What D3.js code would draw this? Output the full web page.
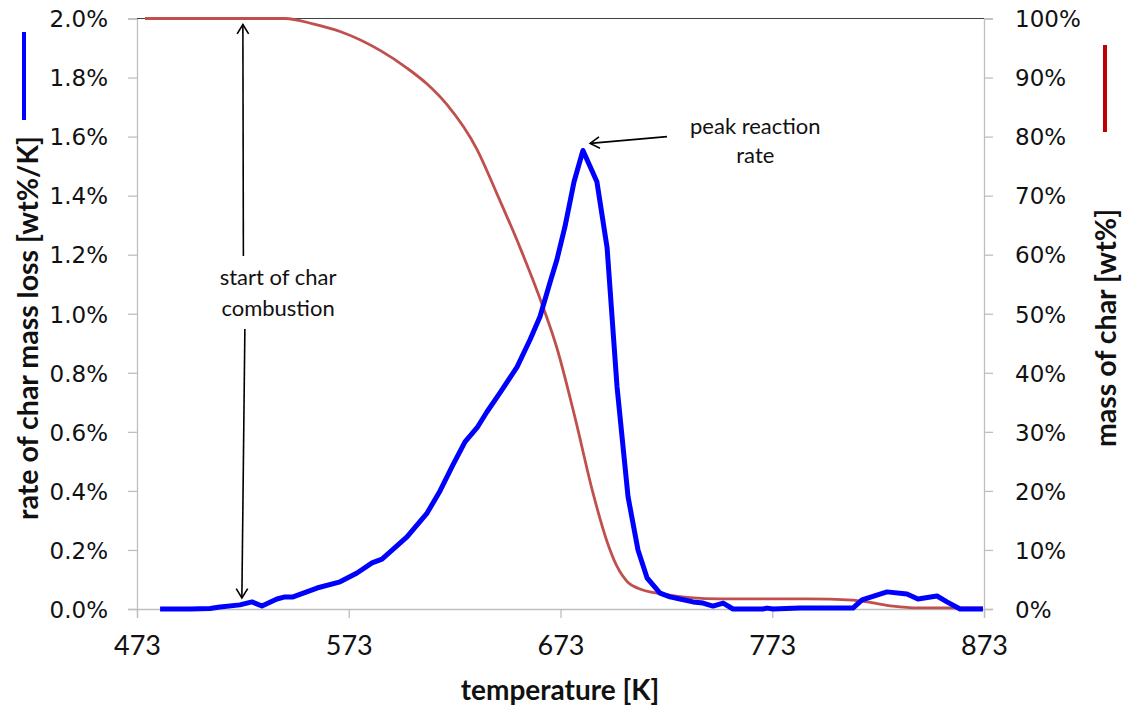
<!DOCTYPE html>
<html>
<head>
<meta charset="utf-8">
<script src="https://cdn.jsdelivr.net/npm/d3@7"></script>
<style>
  html, body { margin: 0; padding: 0; background: #fff; }
  svg { display: block; }
</style>
</head>
<body>
<svg id="chart" width="1130" height="710"></svg>
<script>
// ---- data ----
const xTicks = [473, 573, 673, 773, 873];
const rateTicks = [0, 0.2, 0.4, 0.6, 0.8, 1.0, 1.2, 1.4, 1.6, 1.8, 2.0];
const massTicks = [0, 10, 20, 30, 40, 50, 60, 70, 80, 90, 100];

// rate of char mass loss [wt%/K]
const rateT = [483.9, 498.0, 507.5, 512.2, 521.6, 527.3, 532.0, 539.1, 542.9, 546.7, 558.0, 568.9, 576.9, 584.0, 588.7, 600.5, 610.0, 616.1, 622.2, 627.9, 633.6, 638.3, 644.4, 652.5, 658.6, 663.3, 668.0, 671.3, 675.1, 679.4, 683.6, 690.2, 695.0, 699.7, 704.9, 709.6, 713.9, 720.0, 724.7, 729.4, 735.6, 740.3, 745.0, 749.8, 754.5, 768.6, 770.5, 773.4, 786.1, 798.9, 811.1, 815.4, 827.2, 836.6, 841.8, 850.8, 855.5, 861.7, 872.5];
const rateV = [0, 0, 0.002, 0.007, 0.014, 0.024, 0.010, 0.034, 0.041, 0.041, 0.071, 0.092, 0.122, 0.156, 0.169, 0.244, 0.325, 0.400, 0.488, 0.566, 0.614, 0.668, 0.732, 0.820, 0.912, 0.990, 1.105, 1.183, 1.295, 1.447, 1.553, 1.447, 1.224, 0.753, 0.380, 0.200, 0.105, 0.054, 0.041, 0.034, 0.024, 0.020, 0.010, 0.020, 0, 0, 0.003, 0, 0.003, 0.003, 0.003, 0.031, 0.058, 0.051, 0.034, 0.044, 0.024, 0, 0];

// mass of char [wt%]
const massT = [476.8, 540.5, 542.9, 556.1, 568.9, 587.8, 600.5, 610.0, 619.4, 633.6, 643.0, 653.9, 664.7, 671.3, 679.8, 688.3, 695.0, 699.7, 704.9, 709.6, 720.0, 748.3, 789.4, 811.1, 817.7, 830.0, 841.4, 872.5];
const massV = [100, 100, 100, 99.1, 97.8, 94.6, 91.6, 88.9, 85.4, 77.8, 70.3, 61.2, 51.2, 44.2, 32.5, 19.7, 11.4, 7.2, 4.5, 3.5, 2.6, 1.7, 1.7, 1.5, 1.2, 0.5, 0.2, 0.2];

// ---- layout ----
const svg = d3.select("#chart");
const L = 137, R = 984, T = 18.5, B = 609;

const x = d3.scaleLinear().domain([473, 873]).range([L, R]);
const yL = d3.scaleLinear().domain([0, 2.0]).range([B, T]);
const yR = d3.scaleLinear().domain([0, 100]).range([B, T]);

const axisColor = "#bfbfbf";
const tickFont = "'DejaVu Sans', Verdana, sans-serif";
const labFont = "Lato, 'Open Sans', sans-serif";

// left axis
const gL = svg.append("g").attr("transform", `translate(${L},0)`)
  .call(d3.axisLeft(yL).tickValues(rateTicks).tickSize(9).tickPadding(20)
        .tickFormat(d => d.toFixed(1) + "%"));
// right axis
const gR = svg.append("g").attr("transform", `translate(${R},0)`)
  .call(d3.axisRight(yR).tickValues(massTicks).tickSize(9).tickPadding(22)
        .tickFormat(d => d + "%"));
// bottom axis
const gB = svg.append("g").attr("transform", `translate(0,${B})`)
  .call(d3.axisBottom(x).tickValues(xTicks).tickSize(9).tickPadding(18)
        .tickFormat(d3.format("d")));

[gL, gR, gB].forEach(g => {
  g.select(".domain").attr("stroke", axisColor).attr("stroke-width", 1.3);
  g.selectAll(".tick line").attr("stroke", axisColor).attr("stroke-width", 1.3);
  g.selectAll(".tick text").attr("fill", "#111");
});
gL.selectAll(".tick text").style("font-family", tickFont).style("font-size", "23px")
  .attr("dy", "0.36em");
gR.selectAll(".tick text").style("font-family", tickFont).style("font-size", "23px")
  .attr("dy", "0.36em");
gB.selectAll(".tick text").style("font-family", labFont).style("font-size", "27px");

// top border
svg.append("line").attr("x1", L).attr("x2", R).attr("y1", T).attr("y2", T)
  .attr("stroke", "#404040").attr("stroke-width", 1);

// ---- series ----
const massData = massT.map((t, i) => [t, massV[i]]);
const rateData = rateT.map((t, i) => [t, rateV[i]]);

svg.append("path").datum(massData)
  .attr("fill", "none").attr("stroke", "#c0504d").attr("stroke-width", 2.8)
  .attr("d", d3.line().x(d => x(d[0])).y(d => yR(d[1])).curve(d3.curveMonotoneX));

svg.append("path").datum(rateData)
  .attr("fill", "none").attr("stroke", "#0000ff").attr("stroke-width", 5)
  .attr("stroke-linejoin", "round")
  .attr("d", d3.line().x(d => x(d[0])).y(d => yL(d[1])));

// ---- axis titles ----
svg.append("text").attr("x", 560).attr("y", 700).attr("text-anchor", "middle")
  .style("font-family", labFont).style("font-weight", "bold").style("font-size", "28px")
  .attr("fill", "#111").text("temperature [K]");

svg.append("text").attr("transform", "translate(38,328) rotate(-90)").attr("text-anchor", "middle")
  .style("font-family", labFont).style("font-weight", "bold").style("font-size", "28.5px")
  .attr("fill", "#111").text("rate of char mass loss [wt%/K]");

svg.append("text").attr("transform", "translate(1116,328) rotate(-90)").attr("text-anchor", "middle")
  .style("font-family", labFont).style("font-weight", "bold").style("font-size", "28.5px")
  .attr("fill", "#111").text("mass of char [wt%]");

// legend keys
svg.append("line").attr("x1", 24).attr("x2", 24).attr("y1", 32).attr("y2", 120)
  .attr("stroke", "#0000ff").attr("stroke-width", 4);
svg.append("line").attr("x1", 1105).attr("x2", 1105).attr("y1", 45).attr("y2", 132)
  .attr("stroke", "#c00000").attr("stroke-width", 4);

// ---- annotations ----
const ann = svg.append("g");
function arrow(x1, y1, x2, y2) {
  ann.append("line").attr("x1", x1).attr("y1", y1).attr("x2", x2).attr("y2", y2)
    .attr("stroke", "#000").attr("stroke-width", 1.6);
  const a = Math.atan2(y2 - y1, x2 - x1), s = 11, w = 0.55;
  const p = d3.path();
  p.moveTo(x2 - s * Math.cos(a - w), y2 - s * Math.sin(a - w));
  p.lineTo(x2, y2);
  p.lineTo(x2 - s * Math.cos(a + w), y2 - s * Math.sin(a + w));
  ann.append("path").attr("d", p.toString()).attr("fill", "none")
    .attr("stroke", "#000").attr("stroke-width", 1.6);
}
const startT = 523, peakTxtT = 765;
arrow(x(startT) + 0.5, 256, x(startT), T + 6);
arrow(x(startT) + 2, 329, x(startT) - 1, 598);
arrow(x(723.3), yL(1.6), x(687), yL(1.577));

const annFont = { family: labFont, size: "22px" };
[["start of char", x(539.6), 285], ["combustion", x(539.6), 316],
 ["peak reaction", x(peakTxtT), 134], ["rate", x(peakTxtT), 163]].forEach(([t, px, py]) => {
  ann.append("text").attr("x", px).attr("y", py).attr("text-anchor", "middle")
    .style("font-family", annFont.family).style("font-size", annFont.size)
    .attr("fill", "#111").text(t);
});
</script>
</body>
</html>
